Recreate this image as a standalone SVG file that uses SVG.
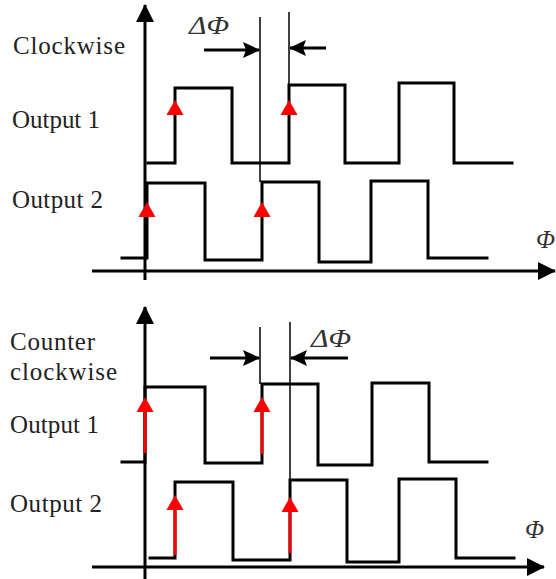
<svg xmlns="http://www.w3.org/2000/svg" xmlns:xlink="http://www.w3.org/1999/xlink" width="556" height="579" viewBox="0 0 556 579">
<style>
.sig{fill:none;stroke:#000;stroke-width:3;stroke-linejoin:miter;stroke-linecap:square}
.axis{fill:none;stroke:#000;stroke-width:3}
.thin{fill:none;stroke:#000;stroke-width:1.5}
.dp{fill:none;stroke:#000;stroke-width:3}
.lbl{font-family:"Liberation Serif","Times New Roman",serif;font-size:25px;fill:#222}
.sym{font-family:"Liberation Serif","Times New Roman",serif;font-style:italic;font-size:25px;fill:#333}
.red{stroke:#f00;stroke-width:3}
</style>
<defs>
<marker id="axisHead" viewBox="0 0 18 18" markerWidth="18" markerHeight="18" refX="17" refY="9" orient="auto" markerUnits="userSpaceOnUse">
<path d="M0,0 L18,9 L0,18 z" fill="#000"/>
</marker>
<marker id="dHead" viewBox="0 0 17 16" markerWidth="17" markerHeight="16" refX="16" refY="8" orient="auto" markerUnits="userSpaceOnUse">
<path d="M0,0 L17,8 L0,16 L3,8 z" fill="#000"/>
</marker>
<path id="rt" d="M0,0 L8.5,15 L-8.5,15 z" fill="#f00"/>
</defs>

<!-- Top: clockwise -->
<g id="top-labels">
<text class="lbl" x="13" y="54" textLength="112" lengthAdjust="spacing">Clockwise</text>
<text class="lbl" x="12" y="128" textLength="88" lengthAdjust="spacing">Output 1</text>
<text class="lbl" x="12" y="208" textLength="91" lengthAdjust="spacing">Output 2</text>
<text class="sym" x="189" y="34" textLength="40" lengthAdjust="spacingAndGlyphs">ΔΦ</text>
<text class="sym" x="536" y="248">Φ</text>
</g>
<g id="top-axes">
<line class="axis" x1="145" y1="280" x2="145" y2="5" marker-end="url(#axisHead)"/>
<line class="axis" x1="92" y1="271" x2="555" y2="271" marker-end="url(#axisHead)"/>
</g>
<g id="top-output1">
<path class="sig" d="M148,163 H175 V88 H232 V163 H289 V85 H345 V163 H399 V83 H454 V163 H512"/>
<use xlink:href="#rt" x="175" y="100"/>
<use xlink:href="#rt" x="289" y="100"/>
</g>
<g id="top-output2">
<path class="sig" d="M122,258 H147 V183 H205 V260 H262 V182 H319 V262 H371 V181 H428 V258 H487"/>
<use xlink:href="#rt" x="147" y="202"/>
<use xlink:href="#rt" x="262" y="202"/>
</g>

<!-- Bottom: counter clockwise -->
<g id="bottom-labels">
<text class="lbl" x="10" y="350" textLength="85" lengthAdjust="spacing">Counter</text>
<text class="lbl" x="10" y="380" textLength="107" lengthAdjust="spacing">clockwise</text>
<text class="lbl" x="10" y="433" textLength="89" lengthAdjust="spacing">Output 1</text>
<text class="lbl" x="10" y="512" textLength="92" lengthAdjust="spacing">Output 2</text>
<text class="sym" x="311" y="347" textLength="40" lengthAdjust="spacingAndGlyphs">ΔΦ</text>
<text class="sym" x="525" y="538">Φ</text>
</g>
<g id="bottom-axes">
<line class="axis" x1="145" y1="579" x2="145" y2="307" marker-end="url(#axisHead)"/>
<line class="axis" x1="92" y1="567" x2="544" y2="567" marker-end="url(#axisHead)"/>
</g>
<g id="bottom-output1">
<path class="sig" d="M122,462 H145 V387 H205 V463 H262 V384 H318 V465 H372 V383 H429 V462 H487"/>
<line class="red" x1="145" y1="453" x2="145" y2="410"/>
<use xlink:href="#rt" x="145" y="397"/>
<line class="red" x1="262" y1="454" x2="262" y2="410"/>
<use xlink:href="#rt" x="262" y="397"/>
</g>
<g id="bottom-output2">
<path class="sig" d="M150,558 H175 V482 H233 V560 H290 V480 H347 V562 H399 V479 H456 V558 H514"/>
<line class="red" x1="175" y1="555" x2="175" y2="508"/>
<use xlink:href="#rt" x="175" y="495"/>
<line class="red" x1="290" y1="553" x2="290" y2="510"/>
<use xlink:href="#rt" x="290" y="497"/>
</g>

<g id="connectors">
<line class="thin" x1="260" y1="17" x2="260" y2="182"/>
<line class="thin" x1="289" y1="12" x2="289" y2="85"/>
<line class="dp" x1="204" y1="50" x2="259" y2="50" marker-end="url(#dHead)"/>
<line class="dp" x1="326" y1="48" x2="290" y2="48" marker-end="url(#dHead)"/>
<line class="thin" x1="260" y1="327" x2="260" y2="384"/>
<line class="thin" x1="290" y1="322" x2="290" y2="480"/>
<line class="dp" x1="210" y1="358" x2="259" y2="358" marker-end="url(#dHead)"/>
<line class="dp" x1="348" y1="358" x2="291" y2="358" marker-end="url(#dHead)"/>
</g>
</svg>
